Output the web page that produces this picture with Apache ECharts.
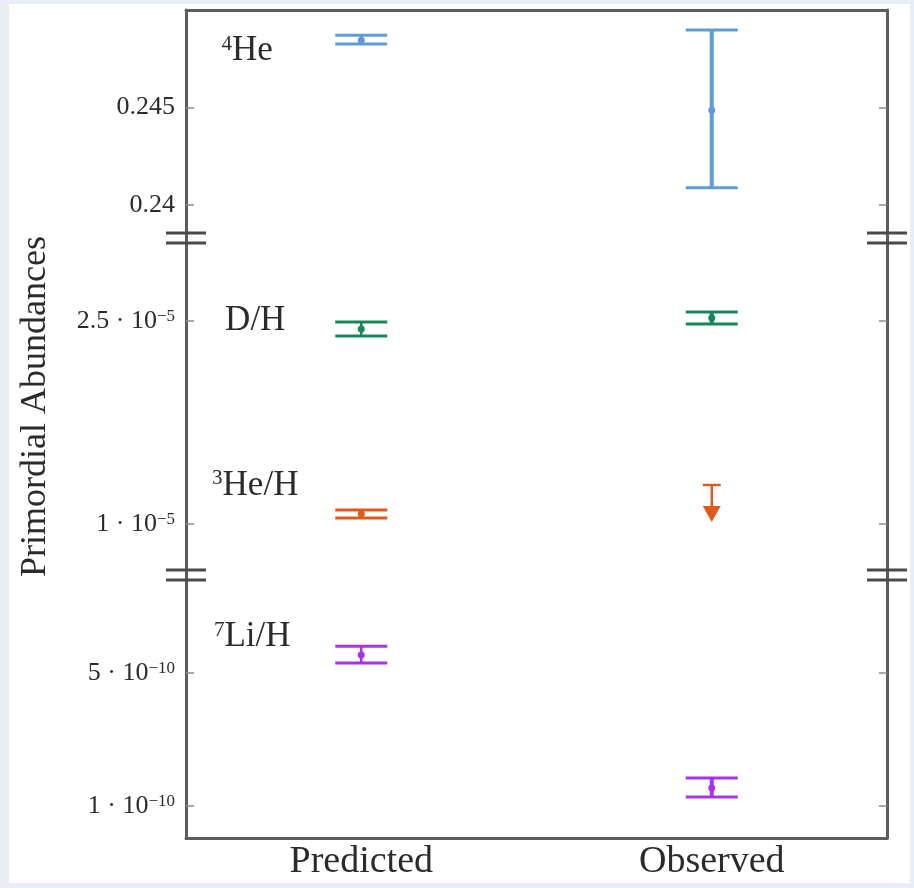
<!DOCTYPE html>
<html>
<head>
<meta charset="utf-8">
<title>Primordial Abundances</title>
<script src="https://cdn.jsdelivr.net/npm/echarts@6.0.0/dist/echarts.min.js"></script>
<style>
    html, body { margin: 0; padding: 0; background: #e9edf5; }
    #paper { position: absolute; left: 9px; top: 4px; width: 901px; height: 879px; background: #fff; }
    #main { position: absolute; left: 0; top: 0; width: 914px; height: 888px; }
</style>
</head>
<body>
<div id="paper"></div>
<div id="main"></div>
<script>
// x categories
const categories = ['Predicted', 'Observed'];
// species, top to bottom, and which segment of the broken y axis they sit in
const speciesLabels = ['{s|4}He', 'D/H', '{s|3}He/H', '{s|7}Li/H'];
const speciesPanel = [0, 1, 1, 2];
const speciesColors = ['#5f9bd6', '#17875a', '#e05a1c', '#a533f0'];

// predicted values (low / central / high)
const predLow     = [0.24825, 2.389e-5, 1.044e-5, 5.30e-10];
const predCentral = [0.24845, 2.441e-5, 1.074e-5, 5.54e-10];
const predHigh    = [0.24871, 2.493e-5, 1.103e-5, 5.81e-10];

// observed values; 3He/H is only an upper limit (high = bar, low = arrow tip)
const obsLow        = [0.24088, 2.478e-5, 1.015e-5, 1.27e-10];
const obsCentral    = [0.24485, 2.522e-5, null, 1.54e-10];
const obsHigh       = [0.24897, 2.567e-5, 1.288e-5, 1.84e-10];
const obsUpperLimit = [false, false, true, false];

// the three segments of the broken axis
const panelMin   = [0.2383, 0.623e-5, 0.038e-10];
const panelMax   = [0.2500, 3.113e-5, 7.95e-10];
const panelTicks = [[0.24, 0.245], [1e-5, 2.5e-5], [1e-10, 5e-10]];
const panelExp   = [0, -5, -10];

// layout (pixels)
const frameLeft = 186, frameRight = 887, frameTop = 10, frameBottom = 838;
const panelEdges = [frameTop, 238, 575, frameBottom];
const W = 914, H = 888;
const FONT = 'Liberation Serif';
const AXIS_COLOR = '#5c5c5c';
const TICK_COLOR = '#8a8a8a';
const TEXT_COLOR = '#2b2b2b';
// label shift relative to the predicted point
const labelShift = [[-114, 11], [-106, -8], [-106, -28], [-109, -18]];

function tickFormatter(panel) {
    const e = panelExp[panel];
    return v => {
        if (e === 0) return '{n|' + (+v.toFixed(4)) + '}';
        const m = +(v / Math.pow(10, e)).toFixed(2);
        return '{n|' + m + ' · 10}{e|−' + (-e) + '}';
    };
}

function buildItems(panel) {
    const items = [];
    speciesPanel.forEach((p, i) => {
        if (p !== panel) return;
        items.push([0, predLow[i], predCentral[i], predHigh[i], i, 0]);
        const c = obsCentral[i] === null ? obsLow[i] : obsCentral[i];
        items.push([1, obsLow[i], c, obsHigh[i], i, obsUpperLimit[i] ? 1 : 0]);
    });
    return items;
}

function renderErrorBar(params, api) {
    const cat = api.value(0);
    const idx = api.value(4);
    const isLimit = api.value(5) === 1;
    const color = speciesColors[idx];
    const lo = api.coord([cat, api.value(1)]);
    const hi = api.coord([cat, api.value(3)]);
    const x = lo[0];
    const line = (x1, y1, x2, y2, w) => ({
        type: 'line', shape: { x1, y1, x2, y2 },
        style: { stroke: color, lineWidth: w }
    });
    const children = [];
    if (isLimit) {
        const tip = lo[1];
        children.push(line(x - 9, hi[1], x + 9, hi[1], 2.5));
        children.push(line(x, hi[1], x, tip - 14, 2.5));
        children.push({
            type: 'polygon',
            shape: { points: [[x - 9, tip - 16], [x + 9, tip - 16], [x, tip]] },
            style: { fill: color }
        });
    } else {
        const mid = api.coord([cat, api.value(2)]);
        children.push(line(x - 26, hi[1], x + 26, hi[1], 3));
        children.push(line(x - 26, lo[1], x + 26, lo[1], 3));
        children.push(line(x, hi[1], x, lo[1], cat === 1 ? 4 : 2.5));
        children.push({ type: 'circle', shape: { cx: x, cy: mid[1], r: 3.5 }, style: { fill: color } });
        if (cat === 0) {
            const sh = labelShift[idx];
            children.push({
                type: 'text',
                style: {
                    text: speciesLabels[idx],
                    x: x + sh[0], y: mid[1] + sh[1],
                    align: 'center', verticalAlign: 'middle',
                    fill: TEXT_COLOR,
                    font: '35px "' + FONT + '"',
                    rich: {
                        s: { fontSize: 21, fontFamily: FONT, verticalAlign: 'top', fill: TEXT_COLOR }
                    }
                }
            });
        }
    }
    return { type: 'group', children };
}

const grids = [], xAxes = [], yAxes = [], series = [];
for (let p = 0; p < 3; p++) {
    grids.push({
        left: frameLeft, right: W - frameRight,
        top: panelEdges[p], height: panelEdges[p + 1] - panelEdges[p]
    });
    xAxes.push({
        type: 'category', gridIndex: p, data: categories,
        show: p !== 1,
        position: p === 0 ? 'top' : 'bottom',
        boundaryGap: true,
        axisLine: { onZero: false, lineStyle: { color: AXIS_COLOR, width: 3 } },
        axisTick: { inside: true, alignWithLabel: true, length: 8, lineStyle: { color: TICK_COLOR, width: 1.5 } },
        axisLabel: {
            show: p === 2, margin: 5,
            fontFamily: FONT, fontSize: 38, color: TEXT_COLOR
        },
        splitLine: { show: false }
    });
}
for (let side = 0; side < 2; side++) {
    for (let p = 0; p < 3; p++) {
        const left = side === 0;
        yAxes.push({
            type: 'value', gridIndex: p,
            position: left ? 'left' : 'right',
            min: panelMin[p], max: panelMax[p],
            name: left && p === 1 ? 'Primordial Abundances' : '',
            nameLocation: 'middle', nameGap: 132,
            nameTextStyle: { fontFamily: FONT, fontSize: 36, color: TEXT_COLOR },
            axisLine: { show: true, onZero: false, lineStyle: { color: AXIS_COLOR, width: 3 } },
            axisTick: {
                show: true, inside: true, length: 8, customValues: panelTicks[p],
                lineStyle: { color: TICK_COLOR, width: 1.5 }
            },
            axisLabel: {
                show: left, margin: 11, customValues: panelTicks[p],
                formatter: tickFormatter(p),
                rich: {
                    n: { fontFamily: FONT, fontSize: 26, color: TEXT_COLOR },
                    e: { fontFamily: FONT, fontSize: 17, color: TEXT_COLOR, verticalAlign: 'top' }
                }
            },
            splitLine: { show: false }
        });
    }
}
for (let p = 0; p < 3; p++) {
    series.push({
        type: 'custom', xAxisIndex: p, yAxisIndex: p,
        data: buildItems(p),
        encode: { x: 0, y: [1, 3] },
        renderItem: renderErrorBar,
        silent: true
    });
}

// break marks on both sides of the frame
const breakMarks = [];
[panelEdges[1], panelEdges[2]].forEach(y => {
    [frameLeft, frameRight].forEach(x => {
        [-5, 5].forEach(d => {
            breakMarks.push({
                type: 'line', silent: true, z: 100,
                shape: { x1: x - 20, y1: y + d, x2: x + 20, y2: y + d },
                style: { stroke: '#4a4a4a', lineWidth: 3 }
            });
        });
    });
});

const chart = echarts.init(document.getElementById('main'));
chart.setOption({
    backgroundColor: 'transparent',
    animation: false,
    grid: grids,
    xAxis: xAxes,
    yAxis: yAxes,
    series: series,
    graphic: breakMarks
});
</script>
</body>
</html>
